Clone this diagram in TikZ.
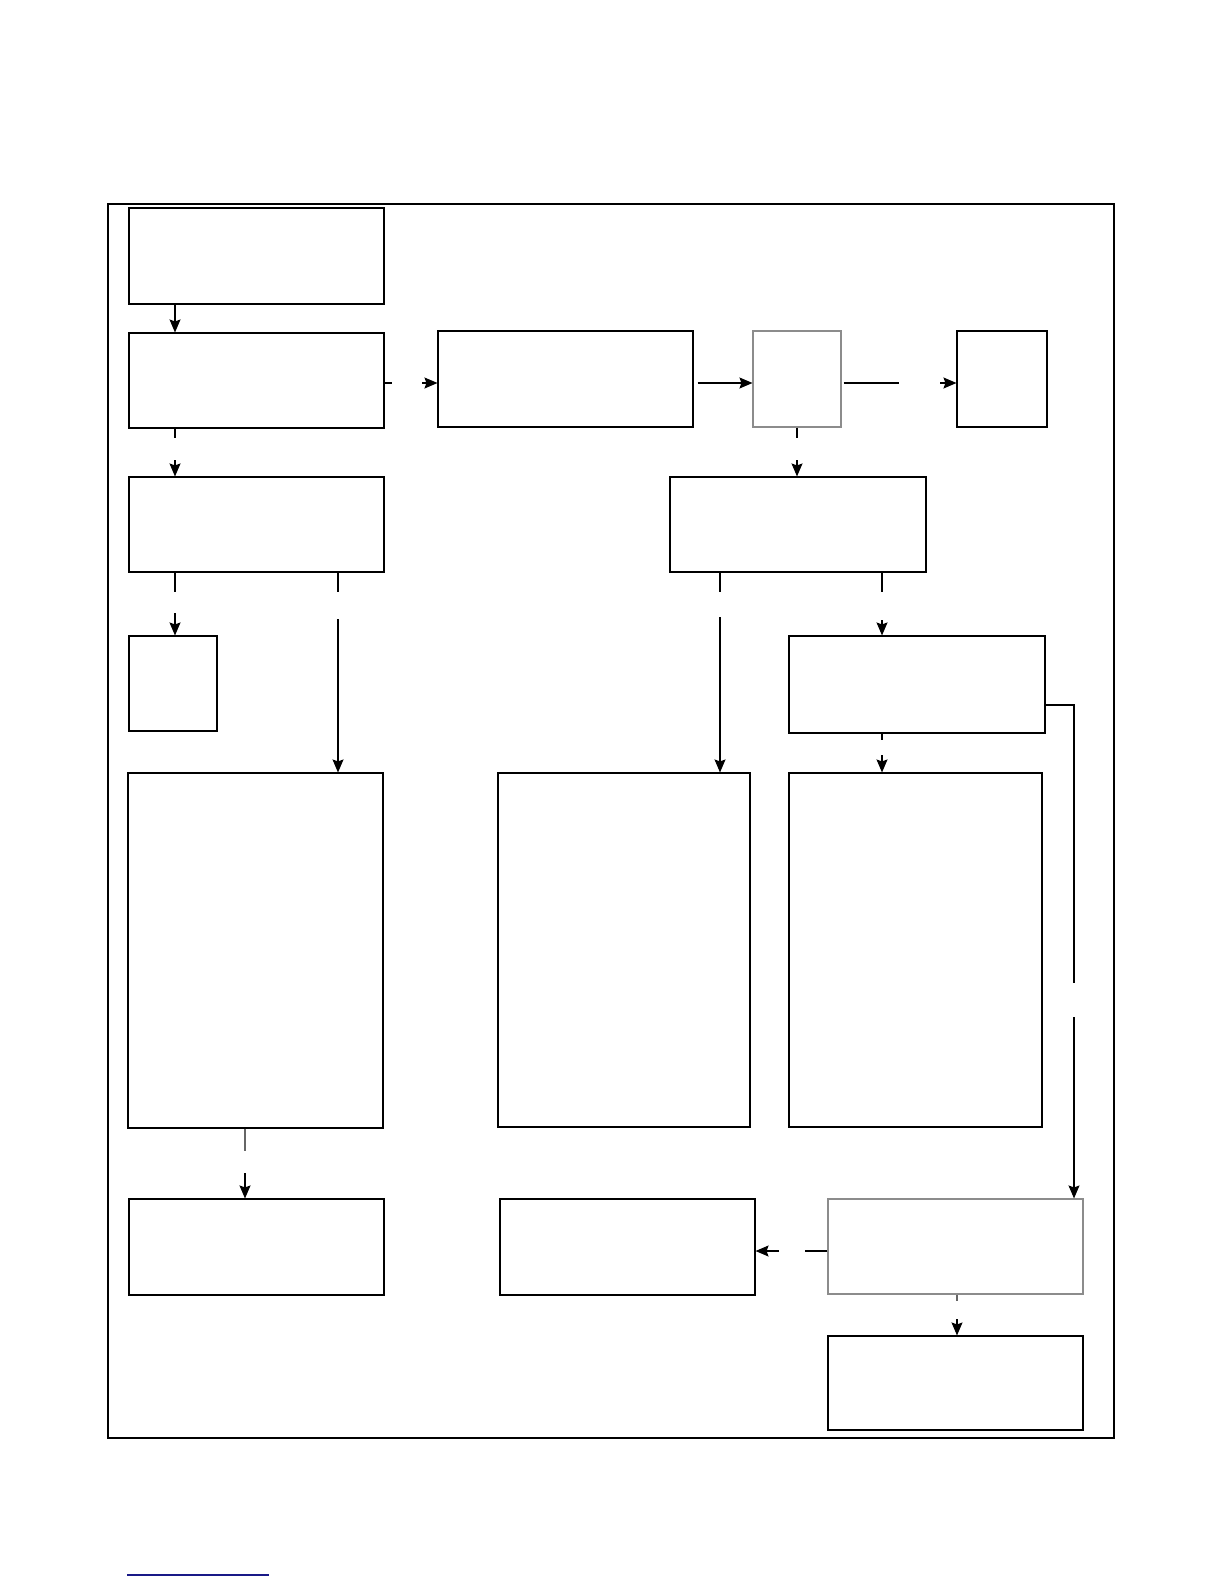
\documentclass[tikz,border=0pt]{standalone}
\usetikzlibrary{arrows.meta,fit}
\definecolor{navyline}{RGB}{25,25,135}
\begin{document}
\begin{tikzpicture}[x=0.5pt,y=-0.5pt]
\useasboundingbox (0,0) rectangle (1224,1584);
\tikzset{
  box/.style={draw,line width=0.55pt,inner sep=0pt},
  graybox/.style={box,draw=black!45},
  frame/.style={draw,line width=1.2pt,inner sep=0pt},
  link/.style={line width=0.55pt},
  arr/.style={link,-{Stealth[length=6.5pt,width=5.5pt,inset=1pt]}}
}
% outer frame
\node[frame,fit={(108,204)(1114,1438)}] (frame) {};
% boxes
\node[box,fit={(129,208)(384,304)}] (A) {};
\node[box,fit={(129,333)(384,428)}] (B) {};
\node[box,fit={(438,331)(693,427)}] (C) {};
\node[graybox,fit={(753,331)(841,427)}] (D) {};
\node[box,fit={(957,331)(1047,427)}] (E) {};
\node[box,fit={(129,477)(384,572)}] (B2) {};
\node[box,fit={(670,477)(926,572)}] (F) {};
\node[box,fit={(129,636)(217,731)}] (H) {};
\node[box,fit={(789,636)(1045,733)}] (G) {};
\node[box,fit={(128,773)(383,1128)}] (L) {};
\node[box,fit={(498,773)(750,1127)}] (M) {};
\node[box,fit={(789,773)(1042,1127)}] (N) {};
\node[box,fit={(129,1199)(384,1295)}] (P) {};
\node[box,fit={(500,1199)(755,1295)}] (Q) {};
\node[graybox,fit={(828,1199)(1083,1294)}] (K) {};
\node[box,fit={(828,1336)(1083,1430)}] (R) {};
% x / y guides
\coordinate (x175) at (175,0);
\coordinate (x338) at (338,0);
\coordinate (x720) at (720,0);
\coordinate (x797) at (797,0);
\coordinate (x882) at (882,0);
\coordinate (x1074) at (1074,0);
\coordinate (x245) at (245,0);
\coordinate (x957) at (957,0);
\coordinate (y383) at (0,383);
\coordinate (y705) at (0,705);
\coordinate (y1251) at (0,1251);
% gap end points
\coordinate (b1) at (392,383);   \coordinate (b2) at (422,383);
\coordinate (b3) at (175,438);   \coordinate (b4) at (175,460);
\coordinate (d1) at (899,383);   \coordinate (d2) at (940,383);
\coordinate (d3) at (797,438);   \coordinate (d4) at (797,460);
\coordinate (e1) at (175,592);   \coordinate (e2) at (175,613);
\coordinate (e3) at (338,592);   \coordinate (e4) at (338,619);
\coordinate (f1) at (720,592);   \coordinate (f2) at (720,617);
\coordinate (f3) at (882,592);   \coordinate (f4) at (882,620);
\coordinate (g1) at (882,740);   \coordinate (g2) at (882,755);
\coordinate (g3) at (1074,983);  \coordinate (g4) at (1074,1017);
\coordinate (l1) at (245,1151);  \coordinate (l2) at (245,1173);
\coordinate (k1) at (805,1251);  \coordinate (k2) at (779,1251);
\coordinate (k3) at (957,1301);  \coordinate (k4) at (957,1319);
% connectors
\draw[arr] (A.south -| x175) -- (B.north -| x175);
\draw[link] (B.east |- y383) -- (b1);
\draw[arr] (b2) -- (C.west |- y383);
\draw[link] (B.south -| x175) -- (b3);
\draw[arr] (b4) -- (B2.north -| x175);
\draw[arr,shorten <=2pt] (C.east |- y383) -- (D.west |- y383);
\draw[link,shorten <=1pt] (D.east |- y383) -- (d1);
\draw[arr] (d2) -- (E.west |- y383);
\draw[link] (D.south -| x797) -- (d3);
\draw[arr] (d4) -- (F.north -| x797);
\draw[link] (B2.south -| x175) -- (e1);
\draw[arr] (e2) -- (H.north -| x175);
\draw[link] (B2.south -| x338) -- (e3);
\draw[arr] (e4) -- (L.north -| x338);
\draw[link] (F.south -| x720) -- (f1);
\draw[arr] (f2) -- (M.north -| x720);
\draw[link] (F.south -| x882) -- (f3);
\draw[arr] (f4) -- (G.north -| x882);
\draw[link] (G.east |- y705) -| (g3);
\draw[arr] (g4) -- (K.north -| x1074);
\draw[link] (G.south -| x882) -- (g1);
\draw[arr] (g2) -- (N.north -| x882);
\draw[link,draw=black!60] (L.south -| x245) -- (l1);
\draw[arr] (l2) -- (P.north -| x245);
\draw[link] (K.west |- y1251) -- (k1);
\draw[arr] (k2) -- (Q.east |- y1251);
\draw[link,draw=black!60] (K.south -| x957) -- (k3);
\draw[arr] (k4) -- (R.north -| x957);
% footnote rule
\coordinate (n1) at (127,1575); \coordinate (n2) at (269,1575);
\draw[navyline,line width=0.6pt] (n1) -- (n2);
\end{tikzpicture}
\end{document}
